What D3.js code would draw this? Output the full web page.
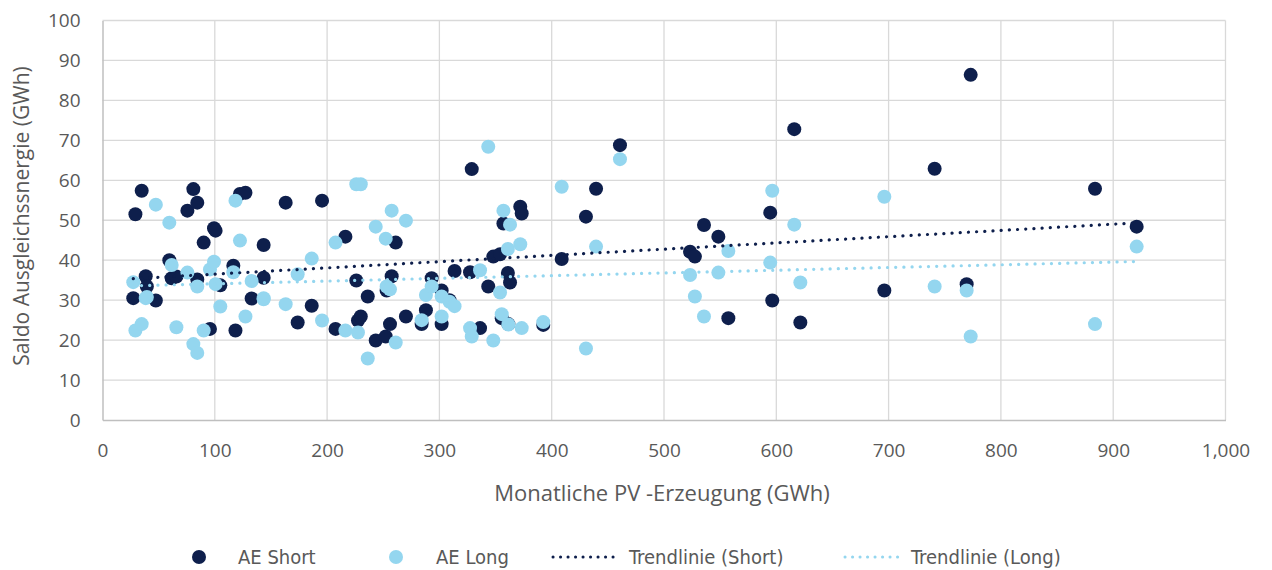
<!DOCTYPE html>
<html>
<head>
<meta charset="utf-8">
<script src="https://cdn.jsdelivr.net/npm/d3@7"></script>
<style>
	body{margin:0;background:#fff;}
	svg{display:block;font-family:"Open Sans","Noto Sans",sans-serif;}
	.legend text{font-family:"Liberation Sans Narrow","DejaVu Sans Condensed","Open Sans",sans-serif;}
</style>
</head>
<body>
<div id="chart"></div>
<script>
// monthly PV generation (GWh) and balancing energy saldo (GWh)
const pv = [27.4,29.3,34.9,38.5,39.5,47.5,59.5,61.6,65.8,75.6,80.9,84.4,84.4,90.1,95.7,99.3,100.7,104.9,116.5,118.4,
	122.4,127.3,132.8,143.5,143.5,163.1,173.8,186.3,195.5,207.5,216.3,226,227.5,230,236.2,243.3,252.2,253,256,257.5,
	261.1,270.2,284.2,288,293.1,302,302,309,313.5,327.3,328.8,336.2,343.5,348,354,355.5,357,361,362.9,361.4,
	372,373.3,392.5,408.9,430.5,439.5,460.8,523.2,527.5,535.6,548.4,557.3,594.6,596.4,616,621.4,696.2,741,769.5,773.1,
	883.8,920.9];
const aeShort = [30.5,51.5,57.4,36.0,33.4,29.9,40.0,35.5,35.9,52.4,57.8,54.4,35.2,44.4,22.8,48.0,47.4,33.7,38.6,22.4,
	56.6,56.9,30.4,43.8,35.6,54.4,24.4,28.6,54.9,22.8,45.9,34.9,24.9,25.9,30.9,19.9,20.9,32.4,24.0,36.0,
	44.4,25.9,24.0,27.5,35.5,32.4,24.0,30.0,37.3,37.0,62.8,23.0,33.4,40.9,41.5,25.5,49.2,36.8,34.4,24.0,
	53.4,51.7,23.8,40.3,50.9,57.9,68.8,42.1,40.9,48.8,45.9,25.5,51.9,29.9,72.8,24.4,32.4,62.9,34.0,86.4,
	57.9,48.4];
const aeLong = [34.5,22.4,24.0,30.5,30.8,53.9,49.4,38.8,23.2,36.9,19.0,16.8,33.4,22.4,37.7,39.6,34.0,28.4,37.0,54.9,
	44.9,25.9,34.8,30.2,30.5,29.0,36.5,40.4,24.9,44.4,22.4,59.0,21.9,59.0,15.4,48.4,45.4,33.4,32.7,52.4,
	19.4,49.9,25.0,31.3,33.4,30.9,25.9,29.6,28.5,23.0,20.9,37.5,68.4,19.9,31.9,26.5,52.4,42.8,48.9,23.9,
	44.0,23.0,24.5,58.4,17.9,43.4,65.3,36.3,30.9,25.9,36.9,42.3,39.4,57.4,48.9,34.4,55.9,33.4,32.4,20.9,
	24.0,43.4];

const xTicks = d3.range(0,1001,100);
const yTicks = d3.range(0,101,10);

const colShort = '#0E1F4C', colLong = '#94D6EF', txt = '#595959';

const W = 1272, H = 570;
const _svg = d3.select('#chart').append('svg').attr('width',W).attr('height',H);

const _x = d3.scaleLinear().domain([0,1000]).range([102.5,1225.5]),
	_y = d3.scaleLinear().domain([0,100]).range([420,20.5]);

// grid
_svg.append('g').selectAll('line.h')
	.data(yTicks.filter(d=>d>0))
	.enter().append('line')
	.attr('x1',_x(0)).attr('x2',_x(1000))
	.attr('y1',d=>_y(d)).attr('y2',d=>_y(d))
	.style('stroke','#d9d9d9').style('stroke-width','1.3px');
_svg.append('g').selectAll('line.v')
	.data(xTicks.filter(d=>d>0))
	.enter().append('line')
	.attr('x1',d=>_x(d)).attr('x2',d=>_x(d))
	.attr('y1',_y(0)).attr('y2',_y(100))
	.style('stroke','#d9d9d9').style('stroke-width','1.3px');

// axes
const xAxis = _svg.append('g')
	.attr('transform',`translate(0,${_y(0)})`)
	.call(d3.axisBottom(_x).tickValues(xTicks).tickFormat(d3.format(',')).tickSize(0).tickPadding(24));
const yAxis = _svg.append('g')
	.attr('transform',`translate(${_x(0)},0)`)
	.call(d3.axisLeft(_y).tickValues(yTicks).tickSize(0).tickPadding(22));
[xAxis,yAxis].forEach(a=>{
	a.select('.domain').style('stroke','#bfbfbf').style('stroke-width','1.5px');
	a.selectAll('text').style('font-size','19px').style('fill',txt).style('font-family','"Open Sans",sans-serif');
});

// points
const shortPts = pv.map((d,i)=>({x:d,y:aeShort[i]}));
const longPts = pv.map((d,i)=>({x:d,y:aeLong[i]}));

_svg.append('g').selectAll('circle')
	.data(shortPts).enter().append('circle')
	.attr('cx',d=>_x(d.x)).attr('cy',d=>_y(d.y)).attr('r',7)
	.style('fill',colShort);
_svg.append('g').selectAll('circle')
	.data(longPts).enter().append('circle')
	.attr('cx',d=>_x(d.x)).attr('cy',d=>_y(d.y)).attr('r',7)
	.style('fill',colLong);

// linear trendlines
function fit(xs,ys){
	const mx = d3.mean(xs), my = d3.mean(ys);
	const b = d3.sum(xs,(x,i)=>(x-mx)*(ys[i]-my))/d3.sum(xs,x=>(x-mx)*(x-mx));
	return x=>my+b*(x-mx);
}
const xExt = d3.extent(pv);
[[aeShort,colShort],[aeLong,colLong]].forEach(([ys,c])=>{
	const f = fit(pv,ys);
	_svg.append('line')
		.attr('x1',_x(xExt[0])).attr('y1',_y(f(xExt[0])))
		.attr('x2',_x(xExt[1])).attr('y2',_y(f(xExt[1])))
		.style('stroke',c).style('stroke-width','3.2px')
		.style('stroke-dasharray','0.1 8.1').style('stroke-linecap','round');
});

// axis titles
_svg.append('text')
	.attr('x',662).attr('y',501)
	.attr('text-anchor','middle')
	.style('font-size','22px').style('fill',txt)
	.text('Monatliche PV -Erzeugung (GWh)');
_svg.append('text')
	.attr('transform','translate(29,216) rotate(-90)')
	.attr('text-anchor','middle')
	.style('font-size','21px').style('fill',txt)
	.text('Saldo Ausgleichssnergie (GWh)');

// legend
const legend = _svg.append('g').attr('class','legend');
const ly = 557;
legend.append('circle').attr('cx',199).attr('cy',ly).attr('r',7).style('fill',colShort);
legend.append('circle').attr('cx',396).attr('cy',ly).attr('r',7).style('fill',colLong);
[[553,620,colShort],[845,901,colLong]].forEach(([a,b,c])=>{
	legend.append('line')
		.attr('x1',a).attr('x2',b).attr('y1',ly).attr('y2',ly)
		.style('stroke',c).style('stroke-width','3px')
		.style('stroke-dasharray','0.1 7.4').style('stroke-linecap','round');
});
[[238,'AE Short'],[436,'AE Long'],[629,'Trendlinie (Short)'],[911,'Trendlinie (Long)']].forEach(([x,t])=>{
	legend.append('text').attr('x',x).attr('y',ly+7)
		.style('font-size','20px').style('fill',txt).text(t);
});
</script>
</body>
</html>
